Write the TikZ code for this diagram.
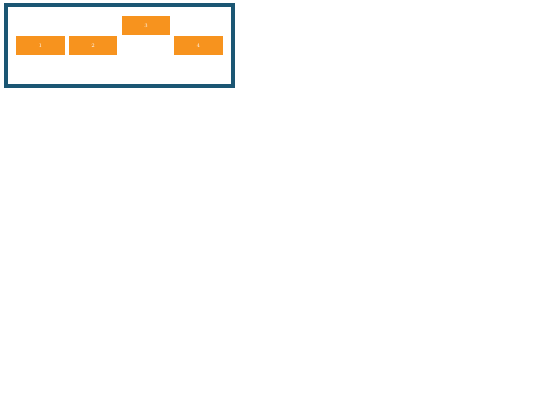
\documentclass[tikz,border=0pt]{standalone}
\usepackage{tikz}
\definecolor{framec}{HTML}{1B5673}
\definecolor{boxc}{HTML}{F7931E}
\begin{document}
\begin{tikzpicture}[x=1pt,y=-1pt,
  item/.style={fill=boxc, draw=none, minimum width=48.5pt, minimum height=19.5pt, inner sep=0pt, outer sep=0pt, text=white, font=\fontsize{5.5}{6}\selectfont, anchor=north west},
  framebox/.style={draw=framec, line width=4pt, outer sep=0pt, inner sep=0pt, anchor=north west}]
\useasboundingbox (0,0) rectangle (540,405);
\node[framebox, minimum width=227.5pt, minimum height=80.2pt] (frame) at (5.5,5.4) {};
\node[item] (b1) at (16,35.7) {1};
\node[item] (b2) at (68.7,35.7) {2};
\node[item] (b3) at (121.7,15.7) {3};
\node[item] (b4) at (174,35.7) {4};
\end{tikzpicture}
\end{document}
